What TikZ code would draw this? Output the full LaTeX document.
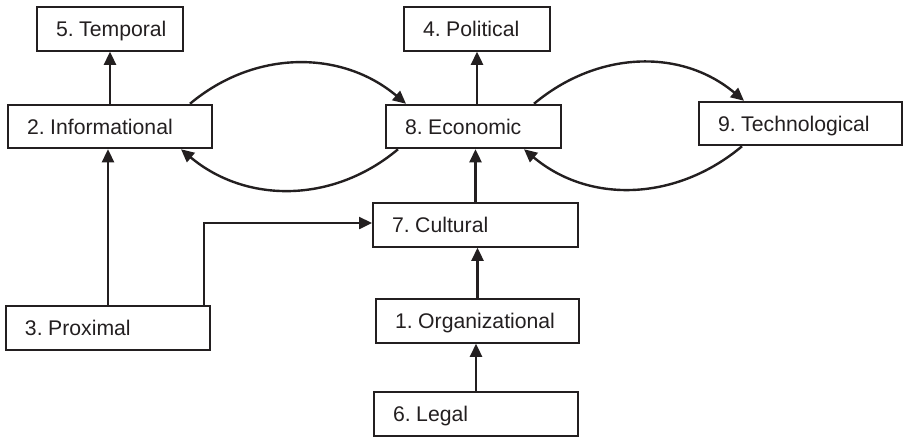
\documentclass[tikz,border=0pt]{standalone}
\usepackage{fontspec}
\setmainfont{Liberation Sans}
\usetikzlibrary{arrows.meta}
\definecolor{ink}{HTML}{231F20}
\newcommand{\boxtxt}[2]{\makebox[#1][l]{\spaceskip=0.17em\relax #2}}
\begin{document}
\begin{tikzpicture}[x=0.5pt,y=-0.5pt,
  bx/.style={draw=ink, line width=1pt, inner xsep=9.5pt, inner ysep=0pt,
    minimum height=21.75pt, text height=7.6pt, text depth=0pt,
    font=\fontsize{10.6}{12}\selectfont, text=ink},
  arr/.style={line width=1.2pt, draw=ink, -{Triangle[length=6.5pt,width=6pt]}}]
\useasboundingbox (0,0) rectangle (903,436);
\node[bx] (temp)  at (110,29)    {\boxtxt{54pt}{5. Temporal}};
\node[bx] (info)  at (110,126.5) {\boxtxt{83pt}{2. Informational}};
\node[bx] (prox)  at (108,328)   {\boxtxt{83pt}{3. Proximal}};
\node[bx] (pol)   at (477,29)    {\boxtxt{54pt}{4. Political}};
\node[bx] (econ)  at (473.5,126.5) {\boxtxt{68.5pt}{8. Economic}};
\node[bx] (tech)  at (800.5,123.5) {\boxtxt{82.5pt}{9. Technological}};
\node[bx] (cult)  at (475.5,225) {\boxtxt{83.5pt}{7. Cultural}};
\node[bx] (org)   at (477.5,321) {\boxtxt{82.5pt}{1. Organizational}};
\node[bx] (legal) at (476,414)   {\boxtxt{83pt}{6. Legal}};
% straight arrows
\draw[arr] (info.north) -- (temp.south);
\draw[arr] (econ.north -| pol.south) -- (pol.south);
\draw[arr] (cult.north) -- (cult.north |- econ.south);
\draw[arr] (org.north) -- (org.north |- cult.south);
\draw[arr] (legal.north) -- (legal.north |- org.south);
\draw[arr] (prox.north) -- (prox.north |- info.south);
\draw[arr] ([xshift=-3.5pt]prox.north east) |- ([yshift=1pt]cult.west);
% curved arrows
\draw[arr] ([xshift=-11.5pt]info.north east) to[out=40,in=140] ([xshift=10.5pt]econ.north west);
\draw[arr] ([xshift=6.5pt]econ.south west) to[out=-140,in=-40] ([xshift=-16pt]info.south east);
\draw[arr] ([xshift=-14pt]econ.north east) to[out=40,in=140] ([xshift=23pt]tech.north west);
\draw[arr] ([xshift=22pt]tech.south west) to[out=-140,in=-40] ([xshift=-19pt]econ.south east);
\end{tikzpicture}
\end{document}
